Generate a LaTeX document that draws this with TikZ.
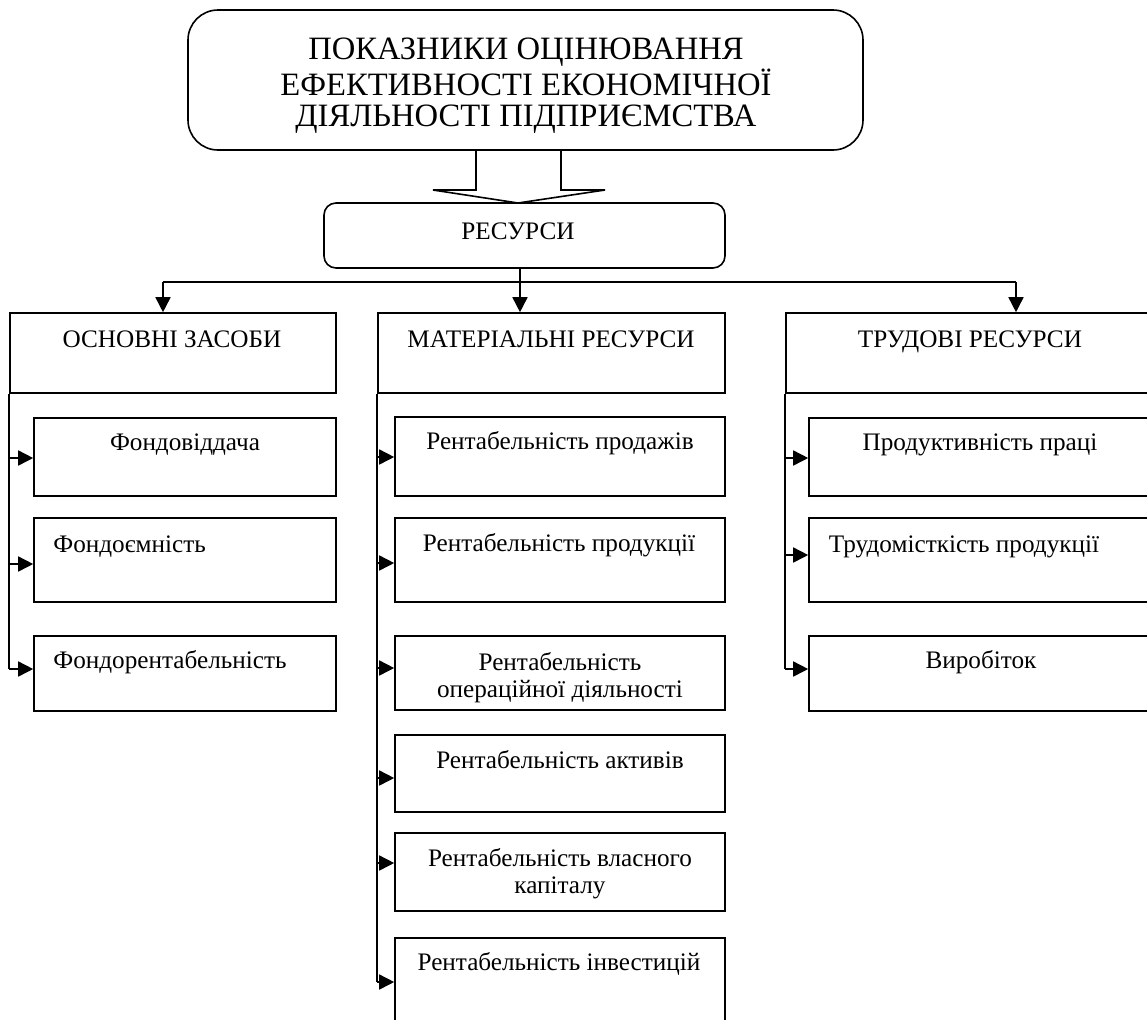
\documentclass[tikz,border=0pt]{standalone}
\usepackage{fontspec}
\setmainfont{Liberation Serif}
\usetikzlibrary{arrows.meta,fit}
\begin{document}
\begin{tikzpicture}[x=0.5pt,y=-0.5pt,
  box/.style={draw, line width=0.8pt, inner sep=0pt},
  txt/.style={font=\fontsize{12.6pt}{13.5pt}\selectfont, inner sep=0pt, anchor=base, align=center},
  ttl/.style={font=\fontsize{16.3pt}{15.5pt}\selectfont, inner sep=0pt, anchor=base, align=center},
  ln/.style={line width=0.8pt},
  arr/.style={line width=0.8pt, -{Triangle[length=7.5pt,width=7.5pt]}}]
\useasboundingbox (0,0) rectangle (1147,1019);
\clip (0,0) rectangle (1147,1019);

% top
\node[box, rounded corners=15pt, fit={(188,10)(863,150)}] (top) {};
\node[ttl] (ttop) at (526,126) {ПОКАЗНИКИ ОЦІНЮВАННЯ\\ЕФЕКТИВНОСТІ ЕКОНОМІЧНОЇ\\ДІЯЛЬНОСТІ ПІДПРИЄМСТВА};

\node[box, rounded corners=6pt, fit={(324,203)(725,268)}] (res) {};
\node[txt] (tres) at (518,239) {РЕСУРСИ};

% block arrow
\draw[ln, line join=miter] (476,150) -- (476,190) -- (433,190) -- (518,203) -- (605,190) -- (561,190) -- (561,150);

% level 2
\node[box, fit={(10,313)(336,393)}] (osn) {};
\node[txt] (tosn) at (172,347) {ОСНОВНІ ЗАСОБИ};
\node[box, fit={(378,313)(725,393)}] (mat) {};
\node[txt] (tmat) at (551,347) {МАТЕРІАЛЬНІ РЕСУРСИ};
\node[box, fit={(786,313)(1170,393)}] (tru) {};
\node[txt] (ttru) at (970,347) {ТРУДОВІ РЕСУРСИ};

\coordinate (hub) at (520,282);
\coordinate (hl) at (163,282);
\coordinate (hr) at (1016,282);
\draw[ln] (hub |- res.south) -- (hub);
\draw[ln] (hl) -- (hr);
\draw[arr] (hl) -- (hl |- osn.north);
\draw[arr] (hub) -- (hub |- mat.north);
\draw[arr] (hr) -- (hr |- tru.north);

% column 1
\node[box, fit={(34,418)(336,496)}] (fv) {};
\node[txt] (tfv) at (185,450) {Фондовіддача};
\node[box, fit={(34,518)(336,602)}] (fe) {};
\node[txt, anchor=base west] (tfe) at (53,552) {Фондоємність};
\node[box, fit={(34,636)(336,711)}] (fr) {};
\node[txt, anchor=base west] (tfr) at (53,668) {Фондорентабельність};

\draw[ln] (osn.south west) -- (osn.south west |- 0,669);
\draw[arr] (osn.south west |- 0,458) -- (fv.west |- 0,458);
\draw[arr] (osn.south west |- 0,564) -- (fe.west |- 0,564);
\draw[arr] (osn.south west |- 0,669) -- (fr.west |- 0,669);

% column 2
\node[box, fit={(395,417)(725,496)}] (m1) {};
\node[txt] (tm1) at (560,449) {Рентабельність продажів};
\node[box, fit={(395,518)(725,602)}] (m2) {};
\node[txt] (tm2) at (559,551) {Рентабельність продукції};
\node[box, fit={(395,636)(725,710)}] (m3) {};
\node[txt] (tm3) at (560,697) {Рентабельність\\операційної діяльності};
\node[box, fit={(395,735)(725,812)}] (m4) {};
\node[txt] (tm4) at (560,768) {Рентабельність активів};
\node[box, fit={(395,833)(725,911)}] (m5) {};
\node[txt] (tm5) at (560,893) {Рентабельність власного\\капіталу};
\node[box, fit={(395,938)(725,1040)}] (m6) {};
\node[txt] (tm6) at (559,970) {Рентабельність інвестицій};

\draw[ln] (mat.south west) -- (mat.south west |- 0,982);
\draw[arr] (mat.south west |- 0,457) -- (m1.west |- 0,457);
\draw[arr] (mat.south west |- 0,563) -- (m2.west |- 0,563);
\draw[arr] (mat.south west |- 0,668) -- (m3.west |- 0,668);
\draw[arr] (mat.south west |- 0,778) -- (m4.west |- 0,778);
\draw[arr] (mat.south west |- 0,863) -- (m5.west |- 0,863);
\draw[arr] (mat.south west |- 0,982) -- (m6.west |- 0,982);

% column 3
\node[box, fit={(809,418)(1170,496)}] (t1) {};
\node[txt] (tt1) at (980,450) {Продуктивність праці};
\node[box, fit={(809,518)(1170,602)}] (t2) {};
\node[txt] (tt2) at (964,552) {Трудомісткість продукції};
\node[box, fit={(809,636)(1170,711)}] (t3) {};
\node[txt] (tt3) at (981,668) {Виробіток};

\draw[ln] (tru.south west) -- (tru.south west |- 0,669);
\draw[arr] (tru.south west |- 0,458) -- (t1.west |- 0,458);
\draw[arr] (tru.south west |- 0,555) -- (t2.west |- 0,555);
\draw[arr] (tru.south west |- 0,669) -- (t3.west |- 0,669);
\end{tikzpicture}
\end{document}
